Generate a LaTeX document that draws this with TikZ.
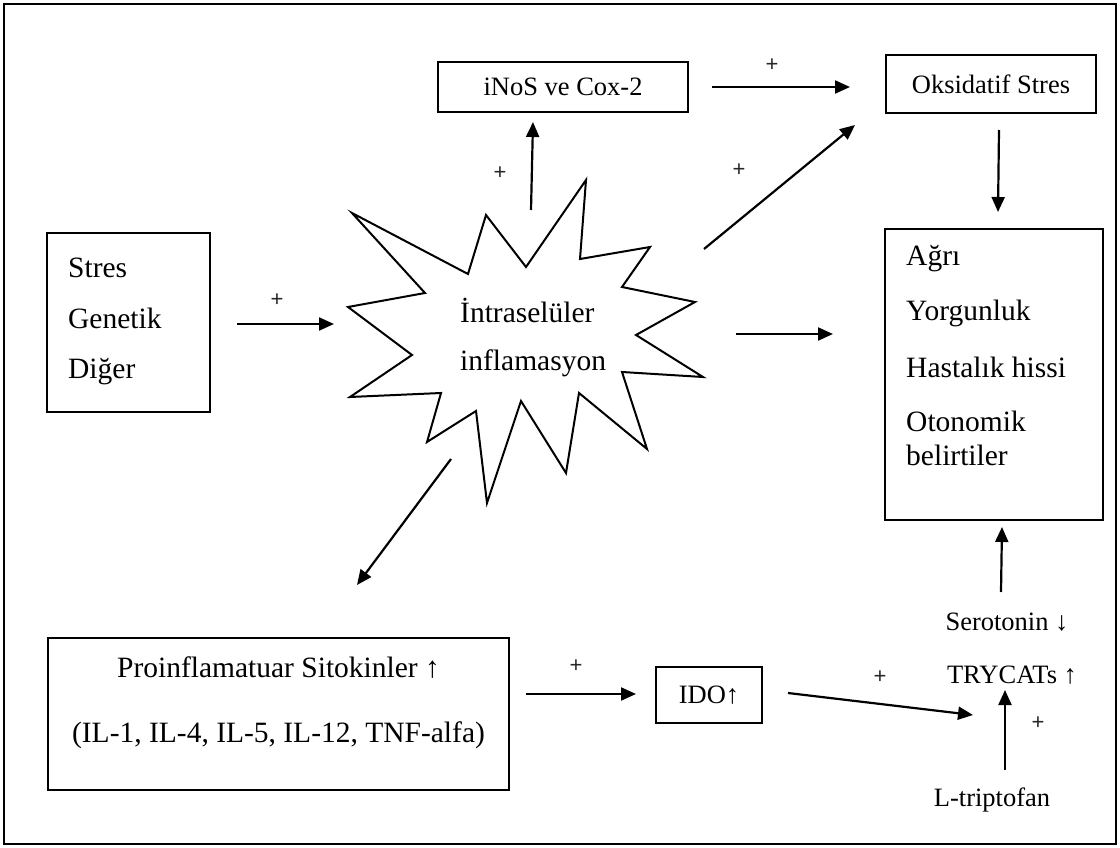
\documentclass[tikz,border=0pt]{standalone}
\usepackage{fontspec}
\setmainfont{Liberation Serif}
\newfontfamily\plusfont{Liberation Sans}
\usetikzlibrary{arrows.meta}
\begin{document}
\begin{tikzpicture}[x=1pt,y=-1pt,
  box/.style={draw, line width=1.6pt, inner sep=0pt, fill=white},
  arr/.style={line width=2.2pt, -{Triangle[length=15pt,width=13pt]}},
  big/.style={font=\fontsize{29.5}{34}\selectfont, inner sep=0pt},
  small/.style={font=\fontsize{26.5}{31}\selectfont, inner sep=0pt},
  plus/.style={font=\plusfont\fontsize{22}{24}\selectfont, inner sep=0pt, text=black!85}]
\useasboundingbox (0,0) rectangle (1120,848);
\draw[line width=2.5pt] (4,4) rectangle (1116,844);

% boxes
\node[box, minimum width=250pt, minimum height=50pt, small] (inos) at (563,87) {iNoS ve Cox-2};
\node[box, minimum width=210pt, minimum height=58pt, small] (oks) at (991,84) {Oksidatif Stres};
\node[box, minimum width=163pt, minimum height=179pt] (src) at (128.5,322.5) {};
\node[big, anchor=west] (stres) at (68,268) {Stres};
\node[big, anchor=west] (gen) at (68,318) {Genetik};
\node[big, anchor=west] (dig) at (68,372) {Diğer};

\node[box, minimum width=218pt, minimum height=291pt] (sym) at (994,374.5) {};
\node[big, anchor=west] (agri) at (906,259) {Ağrı};
\node[big, anchor=west] (yor) at (906,313) {Yorgunluk};
\node[big, anchor=west] (has) at (906,367) {Hastalık hissi};
\node[big, anchor=west] (oto) at (906,421) {Otonomik};
\node[big, anchor=west] (bel) at (906,455) {belirtiler};

\node[box, minimum width=461pt, minimum height=152pt] (pro) at (278.5,714) {};
\node[big] (pro1) at (278.5,668) {Proinflamatuar Sitokinler ↑};
\node[big] (pro2) at (278.5,735) {(IL-1, IL-4, IL-5, IL-12, TNF-alfa)};

\node[box, minimum width=106pt, minimum height=56pt, small] (ido) at (709,695) {IDO↑};

\node[small] (sero) at (1007,622) {Serotonin ↓};
\node[small] (tryc) at (1012,675) {TRYCATs ↑};
\node[small] (ltri) at (992,800) {L-triptofan};

% starburst
\draw[line width=2pt, fill=white, line join=miter]
  (352,213) -- (468,274) -- (486,215) -- (526,267) -- (586,180) -- (580,259)
  -- (650,247) -- (622,287) -- (695,302) -- (636,335) -- (703,377) -- (622,372)
  -- (647,449) -- (579,393) -- (566,473) -- (521,401) -- (487,503) -- (476,411)
  -- (427,442) -- (441,393) -- (350,397) -- (412,355) -- (348,307) -- (425,293) -- cycle;
\node[big, anchor=west] (infl1) at (460,310) {İntraselüler};
\node[big, anchor=west] (infl2) at (460,363) {inflamasyon};

% arrow end points
\coordinate (a1s) at (237,324); \coordinate (a1e) at (334,324);
\coordinate (a2s) at (531,210); \coordinate (a2e) at (533,122);
\coordinate (a3s) at (712,87);  \coordinate (a3e) at (850,87);
\coordinate (a4s) at (704,249); \coordinate (a4e) at (855,125);
\coordinate (a5s) at (999,130); \coordinate (a5e) at (998,212);
\coordinate (a6s) at (736,334); \coordinate (a6e) at (833,334);
\coordinate (a7s) at (451,459); \coordinate (a7e) at (357,585);
\coordinate (a8s) at (526,694); \coordinate (a8e) at (636,694);
\coordinate (a9s) at (788,693); \coordinate (a9e) at (973,715);
\coordinate (a10s) at (1005,770); \coordinate (a10e) at (1005,690);
\coordinate (a11s) at (1001,592); \coordinate (a11e) at (1002,527);

\draw[arr] (a1s) -- (a1e);
\draw[arr] (a2s) -- (a2e);
\draw[arr] (a3s) -- (a3e);
\draw[arr] (a4s) -- (a4e);
\draw[arr] (a5s) -- (a5e);
\draw[arr] (a6s) -- (a6e);
\draw[arr] (a7s) -- (a7e);
\draw[arr] (a8s) -- (a8e);
\draw[arr] (a9s) -- (a9e);
\draw[arr] (a10s) -- (a10e);
\draw[arr] (a11s) -- (a11e);

% plus labels
\node[plus] (p1) at (277,300) {+};
\node[plus] (p2) at (500,173) {+};
\node[plus] (p3) at (772,65) {+};
\node[plus] (p4) at (739,170) {+};
\node[plus] (p5) at (576,666) {+};
\node[plus] (p6) at (880,677) {+};
\node[plus] (p7) at (1038,723) {+};
\end{tikzpicture}
\end{document}
